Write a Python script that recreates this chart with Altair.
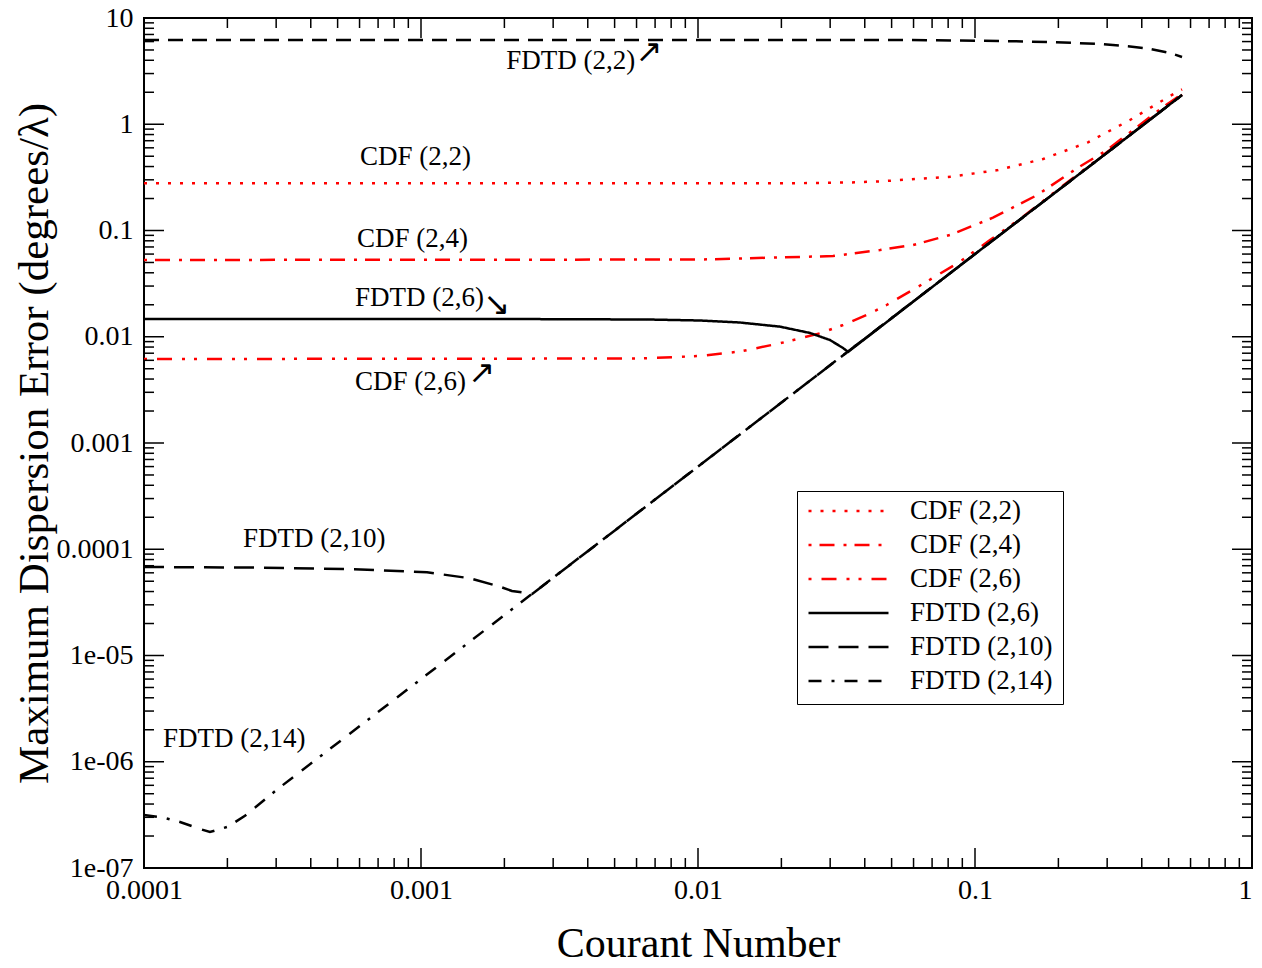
import altair as alt
import pandas as pd

# ---------------- data ----------------
series_order = ["CDF (2,2)", "CDF (2,4)", "CDF (2,6)", "FDTD (2,6)", "FDTD (2,10)", "FDTD (2,14)"]

cdf22_c = [1e-4, 0.0215, 0.035, 0.0454, 0.0824, 0.1211, 0.1761, 0.2558, 0.3627, 0.5058, 0.559]
cdf22_e = [0.278, 0.278, 0.283, 0.290, 0.321, 0.371, 0.471, 0.676, 1.096, 1.845, 2.13]

cdf24_c = [1e-4, 0.01017, 0.03072, 0.0454, 0.05973, 0.0812, 0.1161, 0.1674, 0.2335, 0.2996, 0.3719, 0.4771, 0.559]
cdf24_e = [0.0528, 0.0533, 0.0575, 0.0655, 0.073, 0.0907, 0.132, 0.215, 0.3849, 0.5726, 0.88, 1.45, 1.92]

cdf26_c = [1e-4, 0.00617, 0.01017, 0.01418, 0.01977, 0.02757, 0.03339, 0.04064, 0.04799, 0.06694,
           0.08828, 0.1133, 0.149, 0.2, 0.3, 0.4, 0.559]
cdf26_e = [0.00617, 0.00624, 0.00659, 0.00726, 0.00868, 0.01078, 0.0129, 0.01602, 0.0199, 0.033,
           0.0509, 0.0814, 0.1349, 0.245, 0.548, 0.97, 1.9]

fdtd6_c = [1e-4, 0.003, 0.00671, 0.01017, 0.01418, 0.01977, 0.02537, 0.02995, 0.03339, 0.0348, 0.1, 0.3, 0.559]
fdtd6_e = [0.0147, 0.01465, 0.01452, 0.01422, 0.01361, 0.01245, 0.01085, 0.00932, 0.00783, 0.0072, 0.06, 0.54, 1.885]

fdtd10_c = [1e-4, 2.414e-4, 5.54e-4, 1.051e-3, 1.503e-3, 1.928e-3, 2.13e-3, 2.52e-3, 0.01, 0.0348, 0.1, 0.3, 0.559]
fdtd10_e = [6.81e-5, 6.73e-5, 6.51e-5, 6.07e-5, 5.33e-5, 4.44e-5, 4.05e-5, 3.8e-5, 6.0e-4, 7.27e-3, 0.06, 0.54, 1.885]

fdtd14_c = [1e-4, 1.161e-4, 1.349e-4, 1.593e-4, 1.73e-4, 2.01e-4, 2.315e-4, 3.05e-4, 1e-3, 2.52e-3,
            0.01, 0.0348, 0.1, 0.3, 0.559]
fdtd14_e = [3.15e-7, 3.0e-7, 2.71e-7, 2.33e-7, 2.18e-7, 2.45e-7, 3.1e-7, 5.58e-7, 6.0e-6, 3.81e-5,
            6.0e-4, 7.27e-3, 0.06, 0.54, 1.885]

fdtd22_c = [1e-4, 0.0536, 0.1231, 0.1866, 0.2827, 0.3627, 0.4283, 0.5058, 0.559]
fdtd22_e = [6.21, 6.21, 6.075, 5.94, 5.69, 5.39, 5.11, 4.68, 4.3]

ann_text = ["FDTD (2,2)", "CDF (2,2)", "CDF (2,4)", "FDTD (2,6)", "CDF (2,6)", "FDTD (2,10)", "FDTD (2,14)"]
ann_c = [0.00203, 6.02e-4, 5.87e-4, 5.78e-4, 5.78e-4, 2.277e-4, 1.171e-4]
ann_e = [3.94, 0.4916, 0.0832, 0.02317, 0.003776, 1.249e-4, 1.637e-6]

arrow_glyph = ["\u2197", "\u2198", "\u2197"]
arrow_c = [0.006653, 0.001874, 0.001654]
arrow_e = [4.786, 0.0199, 0.00456]

x_major = [1e-4, 1e-3, 1e-2, 1e-1, 1.0]
x_labels = ["0.0001", "0.001", "0.01", "0.1", "1"]
y_major = [1e-7, 1e-6, 1e-5, 1e-4, 1e-3, 1e-2, 1e-1, 1.0, 10.0]
y_labels = ["1e-07", "1e-06", "1e-05", "0.0001", "0.001", "0.01", "0.1", "1", "10"]
minor_mult = [2, 3, 4, 5, 6, 7, 8, 9]

# ---------------- build tables ----------------
curves = [cdf22_c, cdf24_c, cdf26_c, fdtd6_c, fdtd10_c, fdtd14_c]
values = [cdf22_e, cdf24_e, cdf26_e, fdtd6_e, fdtd10_e, fdtd14_e]
rows = []
for name, cs, es in zip(series_order, curves, values):
    for i, (c, e) in enumerate(zip(cs, es)):
        rows.append({"series": name, "c": c, "e": e, "i": i})
lines_df = pd.DataFrame(rows)
fdtd22_df = pd.DataFrame({"c": fdtd22_c, "e": fdtd22_e, "i": range(len(fdtd22_c))})
ann_df = pd.DataFrame({"c": ann_c, "e": ann_e, "t": ann_text})
arrow_df = pd.DataFrame({"c": arrow_c, "e": arrow_e, "t": arrow_glyph})

x_minor = [m * v for v in x_major[:-1] for m in minor_mult]
y_minor = [m * v for v in y_major[:-1] for m in minor_mult]
xmaj_df = pd.DataFrame({"c": x_major})
xmin_df = pd.DataFrame({"c": x_minor})
ymaj_df = pd.DataFrame({"e": y_major})
ymin_df = pd.DataFrame({"e": y_minor})

# ---------------- styling ----------------
W, H = 1108, 850
FONT = "Liberation Serif"
colors = ["#ff0000", "#ff0000", "#ff0000", "#000000", "#000000", "#000000"]
dashes = [[3, 9], [3, 8, 15, 9], [3, 10, 15, 10, 3, 9], [1, 0], [20, 10], [13, 10, 3, 10, 13, 11]]

xscale = alt.Scale(type="log", domain=[1e-4, 1], nice=False)
yscale = alt.Scale(type="log", domain=[1e-7, 10], nice=False)


def label_expr(labels, offset):
    arr = "[" + ",".join("'" + l + "'" for l in labels) + "]"
    return f"{arr}[round(log(datum.value)/LN10)+{offset}]"


x_axis = alt.Axis(values=x_major, labelExpr=label_expr(x_labels, 4), title="Courant Number",
                  titleFont=FONT, titleFontSize=42, titleFontWeight="normal", titleColor="black",
                  titleX=W / 2, titleY=88, titleBaseline="alphabetic", titleAlign="center",
                  labelFont=FONT, labelFontSize=28, labelColor="black", labelPadding=8,
                  labelAlign={"condition": {"test": "datum.value > 0.5", "value": "right"}, "value": "center"},
                  labelFlush=False, labelOverlap=False, ticks=False, tickSize=0, domain=False, grid=False)
y_axis = alt.Axis(values=y_major, labelExpr=label_expr(y_labels, 7),
                  title="Maximum Dispersion Error (degrees/\u03bb)",
                  titleFont=FONT, titleFontSize=43, titleFontWeight="normal", titleColor="black",
                  titleX=-97, titleY=H / 2, titleAngle=270, titleBaseline="alphabetic", titleAlign="center",
                  labelFont=FONT, labelFontSize=28, labelColor="black", labelPadding=11,
                  labelFlush=False, labelOverlap=False, ticks=False, tickSize=0, domain=False, grid=False)

X = alt.X("c:Q", scale=xscale, axis=x_axis)
Y = alt.Y("e:Q", scale=yscale, axis=y_axis)

leg = alt.Legend(title=None, orient="none", legendX=653, legendY=473, symbolType="stroke",
                 symbolSize=6400, symbolStrokeWidth=2.5, labelFont=FONT, labelFontSize=27,
                 labelColor="black", labelOffset=20, labelLimit=400, padding=10, rowPadding=7,
                 clipHeight=20, strokeColor="black", fillColor="white")

lines = alt.Chart(lines_df).mark_line(strokeWidth=2.5, clip=True).encode(
    x=X, y=Y,
    color=alt.Color("series:N", scale=alt.Scale(domain=series_order, range=colors), legend=leg),
    strokeDash=alt.StrokeDash("series:N", scale=alt.Scale(domain=series_order, range=dashes), legend=leg),
    order="i:Q",
)

fdtd22 = alt.Chart(fdtd22_df).mark_line(strokeWidth=2.5, color="black", strokeDash=[15, 9], clip=True).encode(
    x=X, y=Y, order="i:Q",
)


def ticks(df, ch, side, length):
    if ch == "y":
        enc = {"y": Y}
        if side == "a":
            enc.update(x=alt.value(0), x2=alt.value(length))
        else:
            enc.update(x=alt.value(W), x2=alt.value(W - length))
    else:
        enc = {"x": X}
        if side == "a":
            enc.update(y=alt.value(H), y2=alt.value(H - length))
        else:
            enc.update(y=alt.value(0), y2=alt.value(length))
    return alt.Chart(df).mark_rule(color="black", strokeWidth=1.5).encode(**enc)


tick_layers = [
    ticks(ymaj_df, "y", "a", 20), ticks(ymaj_df, "y", "b", 20),
    ticks(ymin_df, "y", "a", 10), ticks(ymin_df, "y", "b", 10),
    ticks(xmaj_df, "x", "a", 20), ticks(xmaj_df, "x", "b", 20),
    ticks(xmin_df, "x", "a", 10), ticks(xmin_df, "x", "b", 10),
]

ann = alt.Chart(ann_df).mark_text(align="left", baseline="middle", font=FONT, fontSize=27,
                                  color="black").encode(x=X, y=Y, text="t:N")
arrows = alt.Chart(arrow_df).mark_text(align="center", baseline="middle", font="DejaVu Sans",
                                       fontSize=32, color="black").encode(x=X, y=Y, text="t:N")

chart = alt.layer(lines, fdtd22, *tick_layers, ann, arrows).properties(
    width=W, height=H,
    autosize=alt.AutoSizeParams(type="none"),
    padding={"left": 136, "top": 10, "right": 2, "bottom": 92},
    background="white",
).configure_view(stroke="black", strokeWidth=2)

chart.save("out.html", embed_options={"renderer": "svg", "actions": False})
